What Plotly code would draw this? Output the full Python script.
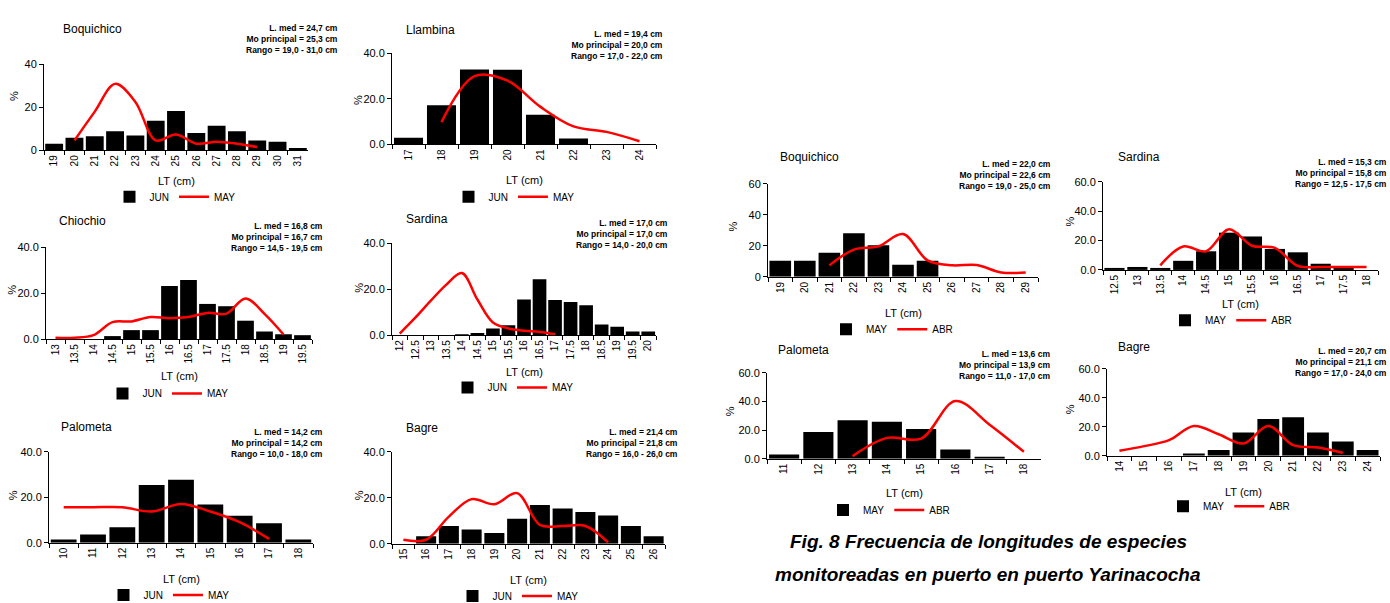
import plotly.graph_objects as go

W, H = 1390, 603          # reference picture size (pixel coordinates below use it)
FIG_H = 611               # page height; the photo squeezes the page into 603 px

# ---------------- DATA ----------------
# Left block: JUN (bars) vs MAY (line)
boq1_cats = ["19", "20", "21", "22", "23", "24", "25", "26", "27", "28", "29", "30", "31"]
boq1_bar = [3.1, 5.8, 6.5, 8.9, 6.9, 13.8, 18.3, 8.0, 11.4, 8.9, 4.6, 4.0, 1.1]
boq1_line_cats = ["20", "21", "22", "23", "24", "25", "26", "27", "28", "29"]
boq1_line = [4.6, 18.0, 30.9, 22.5, 4.6, 7.4, 3.1, 4.0, 3.1, 1.5]

llam_cats = ["17", "18", "19", "20", "21", "22", "23", "24"]
llam_bar = [2.9, 17.2, 32.9, 32.8, 13.0, 2.6, 0, 0]
llam_line_cats = ["18", "19", "20", "21", "22", "23", "24"]
llam_line = [9.8, 30.0, 28.0, 16.5, 7.9, 5.5, 1.4]

chio_cats = ["13", "13.5", "14", "14.5", "15", "15.5", "16", "16.5", "17", "17.5", "18", "18.5", "19", "19.5"]
chio_bar = [0, 0, 0, 1.3, 3.9, 3.9, 23.1, 25.7, 15.3, 14.3, 8.0, 3.3, 2.1, 1.7]
chio_line_cats = ["13", "13.5", "14", "14.5", "15", "15.5", "16", "16.5", "17", "17.5", "18", "18.5", "19"]
chio_line = [0.6, 0.6, 1.7, 7.4, 7.7, 9.6, 9.1, 9.6, 11.4, 11.1, 17.7, 11.0, 2.0]

sard1_cats = ["12", "12.5", "13", "13.5", "14", "14.5", "15", "15.5", "16", "16.5", "17", "17.5", "18", "18.5", "19", "19.5", "20"]
sard1_bar = [0, 0, 0, 0, 0.4, 0.9, 2.9, 4.3, 15.5, 24.3, 15.3, 14.4, 13.0, 4.6, 3.6, 1.6, 1.6]
sard1_line_cats = ["12", "12.5", "13", "13.5", "14", "14.5", "15", "15.5", "16", "16.5", "17"]
sard1_line = [0.7, 7.6, 15.0, 22.0, 27.0, 15.5, 5.5, 2.9, 1.9, 1.4, 0.4]

palo1_cats = ["10", "11", "12", "13", "14", "15", "16", "17", "18"]
palo1_bar = [1.4, 3.6, 6.8, 25.4, 27.7, 16.8, 11.8, 8.5, 1.4]
palo1_line_cats = ["10", "11", "12", "13", "14", "15", "16", "17"]
palo1_line = [15.6, 15.6, 15.6, 13.7, 17.0, 13.7, 9.0, 1.7]

bag1_cats = ["15", "16", "17", "18", "19", "20", "21", "22", "23", "24", "25", "26"]
bag1_bar = [0, 3.2, 7.7, 6.2, 4.7, 10.8, 16.8, 15.3, 13.8, 12.3, 7.7, 3.2]
bag1_line_cats = ["15", "16", "17", "18", "19", "20", "21", "22", "23", "24"]
bag1_line = [1.7, 1.7, 11.8, 19.4, 17.2, 22.0, 8.2, 7.7, 7.7, 0.6]

# Right block: MAY (bars) vs ABR (line)
boq2_cats = ["19", "20", "21", "22", "23", "24", "25", "26", "27", "28", "29"]
boq2_bar = [10.4, 10.4, 15.5, 28.2, 20.4, 7.8, 10.4, 0, 0, 0, 0]
boq2_line_cats = ["21", "22", "23", "24", "25", "26", "27", "28", "29"]
boq2_line = [7.4, 17.6, 19.7, 27.6, 10.6, 7.4, 7.6, 2.8, 2.8]

sard2_cats = ["12.5", "13", "13.5", "14", "14.5", "15", "15.5", "16", "16.5", "17", "17.5", "18"]
sard2_bar = [0.9, 2.0, 0.9, 6.2, 12.7, 25.4, 22.8, 14.3, 12.0, 4.2, 1.3, 0]
sard2_line_cats = ["13.5", "14", "14.5", "15", "15.5", "16", "16.5", "17", "17.5", "18"]
sard2_line = [3.1, 16.0, 12.7, 27.7, 16.5, 15.0, 2.7, 2.0, 2.0, 2.0]

palo2_cats = ["11", "12", "13", "14", "15", "16", "17", "18"]
palo2_bar = [3.0, 18.6, 26.9, 25.7, 20.7, 6.4, 1.1, 0]
palo2_line_cats = ["13", "14", "15", "16", "17", "18"]
palo2_line = [1.8, 14.5, 14.0, 40.2, 23.7, 4.8]

bag2_cats = ["14", "15", "16", "17", "18", "19", "20", "21", "22", "23", "24"]
bag2_bar = [0, 0, 0, 1.6, 3.9, 16.0, 25.3, 26.5, 16.0, 9.8, 3.9]
bag2_line_cats = ["14", "15", "16", "17", "18", "19", "20", "21", "22", "23"]
bag2_line = [3.4, 6.6, 10.7, 20.5, 14.8, 8.4, 20.5, 7.3, 5.7, 2.1]

titles = ["Boquichico", "Llambina", "Chiochio", "Sardina", "Palometa", "Bagre",
          "Boquichico", "Sardina", "Palometa", "Bagre"]
stats = [
    ["L. med = 24,7 cm", "Mo principal = 25,3 cm", "Rango = 19,0 - 31,0 cm"],
    ["L. med = 19,4 cm", "Mo principal = 20,0 cm", "Rango = 17,0 - 22,0 cm"],
    ["L. med = 16,8 cm", "Mo principal = 16,7 cm", "Rango = 14,5 - 19,5 cm"],
    ["L. med = 17,0 cm", "Mo principal = 17,0 cm", "Rango = 14,0 - 20,0 cm"],
    ["L. med = 14,2 cm", "Mo principal = 14,2 cm", "Rango = 10,0 - 18,0 cm"],
    ["L. med = 21,4 cm", "Mo principal = 21,8 cm", "Rango = 16,0 - 26,0 cm"],
    ["L. med = 22,0 cm", "Mo principal = 22,6 cm", "Rango = 19,0 - 25,0 cm"],
    ["L. med = 15,3 cm", "Mo principal = 15,8 cm", "Rango = 12,5 - 17,5 cm"],
    ["L. med = 13,6 cm", "Mo principal = 13,9 cm", "Rango = 11,0 - 17,0 cm"],
    ["L. med = 20,7 cm", "Mo principal = 21,1 cm", "Rango = 17,0 - 24,0 cm"],
]
bar_names = ["JUN"] * 6 + ["MAY"] * 4
line_names = ["MAY"] * 6 + ["ABR"] * 4
caption = ["Fig. 8 Frecuencia de longitudes de especies",
           "monitoreadas en puerto en puerto Yarinacocha"]

series = [
    (boq1_cats, boq1_bar, boq1_line_cats, boq1_line),
    (llam_cats, llam_bar, llam_line_cats, llam_line),
    (chio_cats, chio_bar, chio_line_cats, chio_line),
    (sard1_cats, sard1_bar, sard1_line_cats, sard1_line),
    (palo1_cats, palo1_bar, palo1_line_cats, palo1_line),
    (bag1_cats, bag1_bar, bag1_line_cats, bag1_line),
    (boq2_cats, boq2_bar, boq2_line_cats, boq2_line),
    (sard2_cats, sard2_bar, sard2_line_cats, sard2_line),
    (palo2_cats, palo2_bar, palo2_line_cats, palo2_line),
    (bag2_cats, bag2_bar, bag2_line_cats, bag2_line),
]

# ---------------- LAYOUT SPEC (pixels in the 1390x603 picture) ----------------
boxes = [
    (44, 308, 59, 146, 40, 20, "d"),
    (392, 656, 48, 140, 40, 20, ".1f"),
    (46, 312, 244, 337, 40, 20, ".1f"),
    (392, 656, 240, 333, 40, 20, ".1f"),
    (49, 313, 451, 543, 40, 20, ".1f"),
    (392, 665, 451, 544, 40, 20, ".1f"),
    (768, 1038, 180, 274, 60, 20, "d"),
    (1103, 1378, 178, 267, 60, 20, ".1f"),
    (767, 1041, 371, 458, 60, 20, ".1f"),
    (1107, 1380, 367, 455, 60, 20, ".1f"),
]
title_pos = [(61, 23), (404, 24), (57, 218), (404, 215), (59, 426), (404, 427),
             (778, 153), (1116, 153), (776, 348), (1116, 345)]
stats_pos = [(340, 33), (665, 39), (325, 234), (670, 231), (325, 442), (680, 442),
             (1053, 171), (1389, 169), (1052, 363), (1389, 360)]
pct_pos = [(14, 91), (358, 95), (12, 287), (359, 285), (13, 495), (359, 495),
           (733, 223), (1070, 218), (730, 410), (1070, 408)]
lt_y = [177, 176, 374, 370, 580, 581, 311, 302, 493, 492]
legend_pos = [(175, 193), (514, 193), (168, 392), (513, 386), (169, 596), (518, 597),
              (892, 327), (1231, 318), (889, 510), (1229, 506)]


def px(x):
    return x / W


def py(y):
    return 1 - y / H


FONT = "Liberation Sans, Arial, sans-serif"
NARROW = "Liberation Sans Narrow, Arial Narrow, Liberation Sans, Arial, sans-serif"

fig = go.Figure()
annotations = []
layout = dict(
    width=W, height=FIG_H,
    margin=dict(l=0, r=0, t=0, b=0),
    paper_bgcolor="white", plot_bgcolor="white",
    font=dict(family=FONT, color="black"),
    bargap=0.12,
    showlegend=True,
)

for i, (cats, bvals, lcats, lvals) in enumerate(series):
    n = i + 1
    sfx = "" if n == 1 else str(n)
    lg = "legend" if n == 1 else f"legend{n}"
    fig.add_trace(go.Bar(
        x=cats, y=bvals, name=bar_names[i],
        marker=dict(color="black", line=dict(width=0)),
        xaxis=f"x{sfx}", yaxis=f"y{sfx}", legend=lg,
    ))
    fig.add_trace(go.Scatter(
        x=lcats, y=lvals, name=line_names[i], mode="lines",
        line=dict(color="#ff0000", width=2.5, shape="spline", smoothing=1.0),
        xaxis=f"x{sfx}", yaxis=f"y{sfx}", legend=lg,
    ))
    x0, x1, yt, yb, ymax, dt, fmt = boxes[i]
    layout[f"xaxis{sfx}"] = dict(
        domain=[px(x0), px(x1)], anchor=f"y{sfx}",
        type="category", categoryorder="array", categoryarray=cats,
        range=[-0.5, len(cats) - 0.5],
        tickson="boundaries", ticks="outside", ticklen=4, tickcolor="black",
        showline=True, linecolor="black", linewidth=1,
        tickangle=-90, tickfont=dict(size=10, family=FONT),
        showgrid=False, zeroline=False, fixedrange=True,
    )
    layout[f"yaxis{sfx}"] = dict(
        domain=[py(yb), py(yt)], anchor=f"x{sfx}",
        range=[0, ymax], dtick=dt, tick0=0,
        tickformat=fmt,
        ticks="outside", ticklen=4, tickcolor="black",
        showline=True, linecolor="black", linewidth=1,
        tickfont=dict(size=11, family=FONT),
        showgrid=False, zeroline=False, fixedrange=True,
    )
    lx, ly = legend_pos[i]
    layout[lg] = dict(
        x=px(lx), y=py(ly), xanchor="center", yanchor="middle",
        orientation="h", font=dict(size=10, family=FONT),
        bgcolor="rgba(0,0,0,0)", itemwidth=30, tracegroupgap=0,
        traceorder="normal",
    )
    tx, ty = title_pos[i]
    annotations.append(dict(
        text=titles[i], x=px(tx), y=py(ty), xref="paper", yref="paper",
        xanchor="left", yanchor="middle", showarrow=False,
        font=dict(size=12, family=FONT),
    ))
    sx, sy = stats_pos[i]
    annotations.append(dict(
        text="<br>".join("<b>%s</b>" % s for s in stats[i]),
        x=px(sx), y=py(sy), xref="paper", yref="paper",
        xanchor="right", yanchor="middle", align="right", showarrow=False,
        font=dict(size=8.5, family=NARROW),
    ))
    ppx, ppy = pct_pos[i]
    annotations.append(dict(
        text="%", x=px(ppx), y=py(ppy), xref="paper", yref="paper",
        xanchor="center", yanchor="middle", textangle=-90, showarrow=False,
        font=dict(size=11, family=FONT),
    ))
    annotations.append(dict(
        text="LT (cm)", x=px((x0 + x1) / 2), y=py(lt_y[i]), xref="paper", yref="paper",
        xanchor="center", yanchor="middle", showarrow=False,
        font=dict(size=11, family=FONT),
    ))

for line_text, cy in zip(caption, (542, 575)):
    annotations.append(dict(
        text="<b><i>%s</i></b>" % line_text,
        x=px(988), y=py(cy), xref="paper", yref="paper",
        xanchor="center", yanchor="middle", align="center", showarrow=False,
        font=dict(size=19, family=NARROW),
    ))

layout["annotations"] = annotations
fig.update_layout(**layout)

POST = (
    "var s=document.createElement('style');"
    "s.innerHTML='html,body{margin:0 !important;padding:0 !important;"
    "overflow:hidden !important;}';"
    "document.head.appendChild(s);"
)
fig.write_html("out.html", config={"displayModeBar": False}, post_script=POST)
